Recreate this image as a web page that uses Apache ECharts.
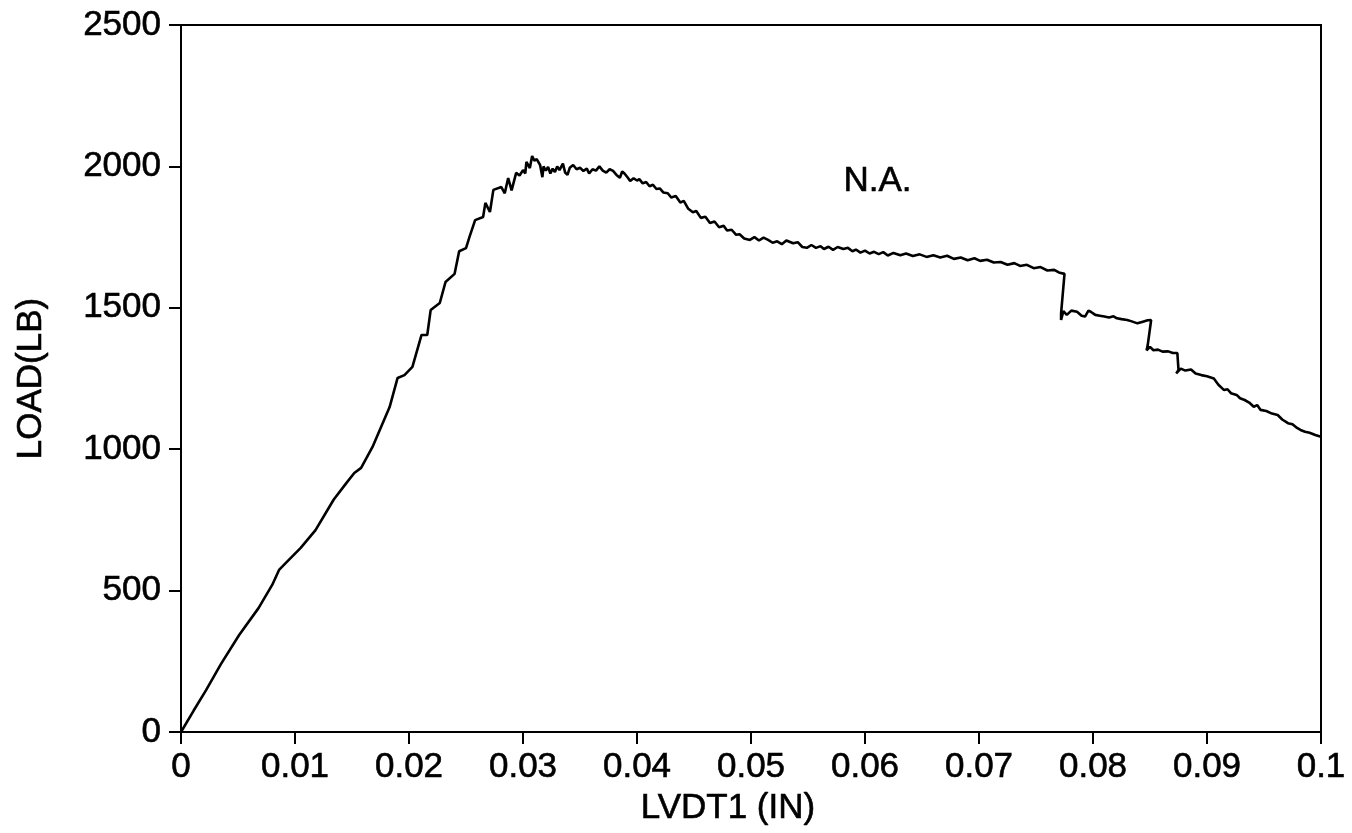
<!DOCTYPE html>
<html>
<head>
<meta charset="utf-8">
<title>LOAD vs LVDT1</title>
<script src="https://cdn.jsdelivr.net/npm/echarts@6/dist/echarts.min.js"></script>
<style>
  html, body { margin: 0; padding: 0; background: #fff; }
  #chart { width: 1352px; height: 833px; }
</style>
</head>
<body>
<div id="chart"></div>
<script>
// Load-displacement record: LVDT1 displacement (in) and load (lb)
const lvdt = [
  0, 0.0011, 0.0022, 0.0035, 0.0051, 0.0068, 0.0080, 0.0086, 0.0092, 0.0105,
  0.0118, 0.0134, 0.0145, 0.0152, 0.0158, 0.0168, 0.0183, 0.0190, 0.0196, 0.0203,
  0.0211, 0.0216, 0.0219, 0.0227, 0.0232, 0.0240, 0.0244, 0.0250, 0.0253, 0.0258,
  0.0265, 0.0267, 0.0271, 0.0274, 0.0281, 0.0284, 0.0287, 0.0290, 0.0294, 0.0297,
  0.0300, 0.0302, 0.0303, 0.0306, 0.0308, 0.0310, 0.0312, 0.0315, 0.0317, 0.0318,
  0.0320, 0.0322, 0.0324, 0.0326, 0.0328, 0.0330, 0.0332, 0.0335, 0.0337, 0.0339,
  0.0341, 0.0344, 0.0347, 0.0350, 0.0353, 0.0356, 0.0358, 0.0361, 0.0364, 0.0367,
  0.0370, 0.0373, 0.0376, 0.0379, 0.0382, 0.0385, 0.0387, 0.0389, 0.0392, 0.0394,
  0.0397, 0.0400, 0.0402, 0.0405, 0.0408, 0.0411, 0.0414, 0.0417, 0.0420, 0.0423,
  0.0427, 0.0430, 0.0434, 0.0438, 0.0441, 0.0445, 0.0449, 0.0452, 0.0456, 0.0460,
  0.0464, 0.0468, 0.0472, 0.0476, 0.0479, 0.0483, 0.0487, 0.0490, 0.0494, 0.0499,
  0.0503, 0.0507, 0.0511, 0.0515, 0.0519, 0.0523, 0.0527, 0.0531, 0.0537, 0.0541,
  0.0545, 0.0549, 0.0553, 0.0557, 0.0561, 0.0564, 0.0568, 0.0572, 0.0576, 0.0581,
  0.0585, 0.0589, 0.0592, 0.0596, 0.0600, 0.0604, 0.0608, 0.0612, 0.0616, 0.0620,
  0.0625, 0.0631, 0.0636, 0.0642, 0.0648, 0.0654, 0.0660, 0.0666, 0.0672, 0.0678,
  0.0684, 0.0690, 0.0696, 0.0701, 0.0707, 0.0713, 0.0719, 0.0725, 0.0731, 0.0736,
  0.0742, 0.0748, 0.0754, 0.0760, 0.0766, 0.0770, 0.0775, 0.0772, 0.0772, 0.0774,
  0.0777, 0.0781, 0.0786, 0.0790, 0.0793, 0.0796, 0.0798, 0.0802, 0.0806, 0.0810,
  0.0814, 0.0818, 0.0821, 0.0825, 0.0830, 0.0834, 0.0839, 0.0843, 0.0848, 0.0851,
  0.0848, 0.0847, 0.0850, 0.0853, 0.0857, 0.0861, 0.0866, 0.0870, 0.0874, 0.0875,
  0.0873, 0.0877, 0.0881, 0.0886, 0.0890, 0.0895, 0.0900, 0.0906, 0.0910, 0.0915,
  0.0918, 0.0921, 0.0926, 0.0929, 0.0933, 0.0937, 0.0941, 0.0944, 0.0947, 0.0952,
  0.0957, 0.0962, 0.0966, 0.0971, 0.0975, 0.0979, 0.0982, 0.0986, 0.0990, 0.0995,
  0.1000
];
const load = [
  0, 75, 148, 240, 343, 438, 520, 573, 598, 651,
  714, 822, 880, 916, 934, 1008, 1149, 1252, 1262, 1291,
  1404, 1404, 1492, 1517, 1591, 1620, 1700, 1711, 1750, 1810,
  1821, 1871, 1839, 1917, 1927, 1905, 1959, 1915, 1977, 1968,
  1987, 1975, 2016, 1994, 2037, 2020, 2026, 2005, 1962, 2000,
  1985, 1998, 1975, 1992, 1980, 2000, 1987, 2010, 1978, 1970,
  1995, 2005, 1990, 1995, 1984, 1992, 1975, 1990, 1985, 2000,
  1985, 1978, 1990, 1984, 1970, 1960, 1982, 1975, 1960, 1948,
  1958, 1950, 1955, 1940, 1945, 1930, 1935, 1920, 1922, 1908,
  1905, 1890, 1895, 1872, 1878, 1850, 1838, 1842, 1818, 1822,
  1800, 1805, 1785, 1790, 1773, 1776, 1758, 1760, 1745, 1740,
  1750, 1738, 1748, 1740, 1730, 1735, 1725, 1738, 1728, 1732,
  1715, 1712, 1722, 1712, 1718, 1708, 1716, 1705, 1715, 1708,
  1712, 1700, 1706, 1695, 1702, 1692, 1698, 1690, 1697, 1685,
  1694, 1686, 1692, 1683, 1689, 1680, 1686, 1678, 1684, 1673,
  1678, 1668, 1675, 1666, 1670, 1660, 1662, 1652, 1658, 1648,
  1652, 1640, 1644, 1632, 1634, 1625, 1620, 1480, 1457, 1488,
  1475, 1490, 1486, 1472, 1469, 1490, 1486, 1475, 1472, 1469,
  1466, 1470, 1463, 1460, 1457, 1452, 1445, 1450, 1456, 1457,
  1368, 1350, 1362, 1350, 1352, 1345, 1346, 1340, 1340, 1280,
  1268, 1285, 1278, 1282, 1268, 1262, 1258, 1250, 1228, 1209,
  1212, 1198, 1192, 1180, 1174, 1165, 1150, 1156, 1139, 1135,
  1126, 1121, 1105, 1092, 1088, 1075, 1068, 1062, 1058, 1050,
  1044
];

// Axis ranges and tick steps
const xTicks = [0, 0.01, 0.02, 0.03, 0.04, 0.05, 0.06, 0.07, 0.08, 0.09, 0.1];
const yTicks = [0, 500, 1000, 1500, 2000, 2500];

// Annotation text placed in data coordinates
const noteText = 'N.A.';
const notePos = [0.0611, 1948];

const FONT = '"Liberation Sans", Arial, sans-serif';
const INK = '#000';
const textStyle = {
  fontFamily: FONT, fontSize: 35, color: INK,
  textBorderColor: INK, textBorderWidth: 0.6
};

const points = lvdt.map((x, i) => [x, load[i]]);

const chart = echarts.init(document.getElementById('chart'), null, { renderer: 'canvas' });

chart.setOption({
  animation: false,
  backgroundColor: '#fff',
  grid: {
    left: 181, right: 31, top: 25, bottom: 101,
    show: true, borderColor: INK, borderWidth: 2, backgroundColor: 'transparent'
  },
  xAxis: {
    type: 'value',
    min: xTicks[0],
    max: xTicks[xTicks.length - 1],
    interval: xTicks[1] - xTicks[0],
    name: 'LVDT1 (IN)',
    nameLocation: 'middle',
    nameGap: 52,
    nameTextStyle: Object.assign({}, textStyle, { padding: [0, 46, 0, 0] }),
    axisLine: { show: true, lineStyle: { color: INK, width: 2 } },
    axisTick: { show: true, inside: false, length: 12, lineStyle: { color: INK, width: 2 } },
    axisLabel: Object.assign({ margin: 18, formatter: v => String(parseFloat(v.toFixed(2))) }, textStyle),
    splitLine: { show: false }
  },
  yAxis: {
    type: 'value',
    min: yTicks[0],
    max: yTicks[yTicks.length - 1],
    interval: yTicks[1] - yTicks[0],
    name: 'LOAD(LB)',
    nameLocation: 'middle',
    nameGap: 132,
    nameRotate: 90,
    nameTextStyle: textStyle,
    axisLine: { show: true, lineStyle: { color: INK, width: 2 } },
    axisTick: { show: true, inside: false, length: 12, lineStyle: { color: INK, width: 2 } },
    axisLabel: Object.assign({ margin: 20, formatter: v => String(v) }, textStyle),
    splitLine: { show: false }
  },
  series: [
    {
      type: 'line',
      data: points,
      showSymbol: false,
      symbol: 'none',
      lineStyle: { color: INK, width: 2.6 },
      z: 3
    },
    {
      type: 'scatter',
      data: [notePos],
      symbolSize: 0,
      itemStyle: { color: INK, opacity: 1 },
      label: Object.assign({
        show: true, position: [0, 0], align: 'center', verticalAlign: 'middle',
        formatter: noteText
      }, textStyle),
      silent: true
    }
  ]
});
</script>
</body>
</html>
